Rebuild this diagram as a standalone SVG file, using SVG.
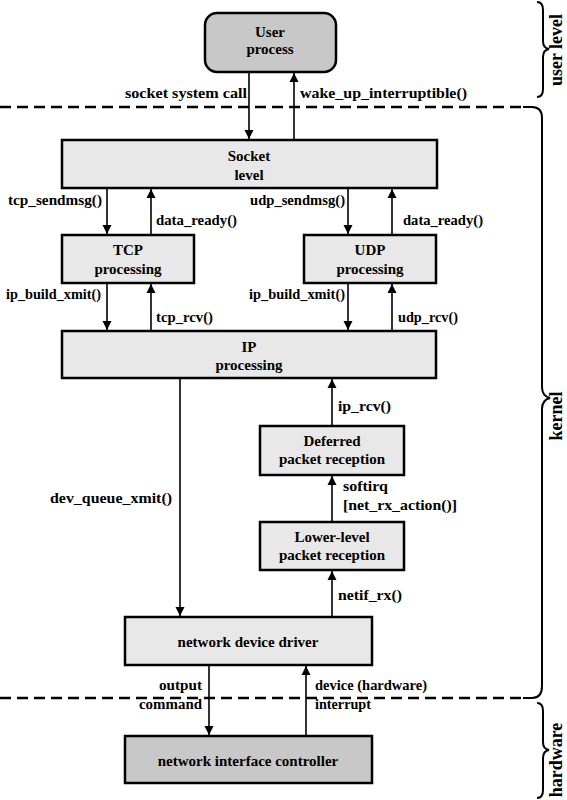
<svg xmlns="http://www.w3.org/2000/svg" width="567" height="800" viewBox="0 0 567 800">
<defs>
<marker id="ah" viewBox="0 0 10 10" refX="10" refY="5" markerWidth="9" markerHeight="10" markerUnits="userSpaceOnUse" orient="auto">
<path d="M0,0 L10,5 L0,10 z" fill="#000"/>
</marker>
<style>
.box{fill:#e8e8e8;stroke:#000;stroke-width:2.5}
.dark{fill:#c8c8c8;stroke:#000;stroke-width:2.5}
.t{font-family:"Liberation Serif","Times New Roman",serif;font-weight:bold;font-size:15px;fill:#000}
.l{font-size:15.5px}
.c{text-anchor:middle}
.r{text-anchor:end}
.side{font-family:"Liberation Serif","Times New Roman",serif;font-weight:bold;font-size:18px;text-anchor:middle;fill:#000}
.ln{stroke:#000;stroke-width:1.6;fill:none;marker-end:url(#ah)}
.dash{stroke:#000;stroke-width:2.4;stroke-dasharray:11,6;fill:none}
.br{stroke:#000;stroke-width:2;fill:none}
</style>
</defs>
<rect width="567" height="800" fill="#fff"/>

<g id="boundaries">
<line class="dash" x1="0" y1="107" x2="525" y2="107"/>
<line class="dash" x1="0" y1="698" x2="525" y2="698"/>
<path class="br" d="M537,2 Q543,2 543,10 L543,41 Q543,48 549,49 Q543,50 543,57 L543,89 Q543,97 537,97"/>
<path class="br" d="M523,107 L532,107 Q542,107 542,118 L542,387 Q542,396 550,398 Q542,400 542,409 L542,686 Q542,698 532,698 L523,698"/>
<path class="br" d="M537,703 Q543,703 543,711 L543,742 Q543,749 549,750 Q543,751 543,758 L543,790 Q543,798 537,798"/>
<text class="side" transform="translate(562,50) rotate(-90)">user level</text>
<text class="side" transform="translate(562,416) rotate(-90)">kernel</text>
<text class="side" transform="translate(562,760) rotate(-90)">hardware</text>
</g>

<g id="user-process">
<rect class="dark" x="205" y="13" width="131" height="59" rx="12"/>
<text class="t c" x="270" y="37">User</text>
<text class="t c" x="270" y="54">process</text>
</g>

<g id="socket-level">
<rect class="box" x="62" y="140" width="375" height="48"/>
<text class="t c" x="249" y="161">Socket</text>
<text class="t c" x="249" y="180">level</text>
</g>

<g id="tcp">
<rect class="box" x="62" y="235" width="132" height="48"/>
<text class="t c" x="128" y="255">TCP</text>
<text class="t c" x="128" y="274">processing</text>
</g>

<g id="udp">
<rect class="box" x="304" y="235" width="132" height="48"/>
<text class="t c" x="370" y="255">UDP</text>
<text class="t c" x="370" y="274">processing</text>
</g>

<g id="ip">
<rect class="box" x="62" y="331" width="374" height="47"/>
<text class="t c" x="249" y="352">IP</text>
<text class="t c" x="249" y="370">processing</text>
</g>

<g id="deferred">
<rect class="box" x="260" y="426" width="144" height="49"/>
<text class="t c" x="332" y="446">Deferred</text>
<text class="t c" x="332" y="464">packet reception</text>
</g>

<g id="lower-level">
<rect class="box" x="260" y="522" width="144" height="48"/>
<text class="t c" x="332" y="542">Lower-level</text>
<text class="t c" x="332" y="560">packet reception</text>
</g>

<g id="driver">
<rect class="box" x="125" y="617" width="247" height="48"/>
<text class="t c" x="248" y="647">network device driver</text>
</g>

<g id="nic">
<rect class="dark" x="125" y="736" width="247" height="47"/>
<text class="t c" x="248" y="766">network interface controller</text>
</g>

<g id="connectors">
<line class="ln" x1="249" y1="72" x2="249" y2="139"/>
<line class="ln" x1="294" y1="140" x2="294" y2="73"/>
<line class="ln" x1="107" y1="188" x2="107" y2="234"/>
<line class="ln" x1="151" y1="235" x2="151" y2="189"/>
<line class="ln" x1="348" y1="188" x2="348" y2="234"/>
<line class="ln" x1="392" y1="235" x2="392" y2="189"/>
<line class="ln" x1="107" y1="283" x2="107" y2="330"/>
<line class="ln" x1="151" y1="331" x2="151" y2="284"/>
<line class="ln" x1="348" y1="283" x2="348" y2="330"/>
<line class="ln" x1="392" y1="331" x2="392" y2="284"/>
<line class="ln" x1="180" y1="378" x2="180" y2="616"/>
<line class="ln" x1="332" y1="426" x2="332" y2="379"/>
<line class="ln" x1="332" y1="522" x2="332" y2="476"/>
<line class="ln" x1="332" y1="617" x2="332" y2="571"/>
<line class="ln" x1="209" y1="665" x2="209" y2="735"/>
<line class="ln" x1="306" y1="736" x2="306" y2="666"/>

<text class="t l" x="125" y="98" textLength="122" lengthAdjust="spacingAndGlyphs">socket system call</text>
<text class="t l" x="300" y="98" textLength="167" lengthAdjust="spacingAndGlyphs">wake_up_interruptible()</text>
<text class="t l" x="8" y="205" textLength="94" lengthAdjust="spacingAndGlyphs">tcp_sendmsg()</text>
<text class="t l" x="156" y="225" textLength="81" lengthAdjust="spacingAndGlyphs">data_ready()</text>
<text class="t l" x="250" y="205" textLength="95" lengthAdjust="spacingAndGlyphs">udp_sendmsg()</text>
<text class="t l" x="403" y="225" textLength="80" lengthAdjust="spacingAndGlyphs">data_ready()</text>
<text class="t l" x="6" y="299" textLength="95" lengthAdjust="spacingAndGlyphs">ip_build_xmit()</text>
<text class="t l" x="156" y="322" textLength="57" lengthAdjust="spacingAndGlyphs">tcp_rcv()</text>
<text class="t l" x="249" y="299" textLength="96" lengthAdjust="spacingAndGlyphs">ip_build_xmit()</text>
<text class="t l" x="398" y="322" textLength="60" lengthAdjust="spacingAndGlyphs">udp_rcv()</text>
<text class="t l" x="50" y="503" textLength="122" lengthAdjust="spacingAndGlyphs">dev_queue_xmit()</text>
<text class="t l" x="338" y="411" textLength="53" lengthAdjust="spacingAndGlyphs">ip_rcv()</text>
<text class="t l" x="343" y="491" textLength="45" lengthAdjust="spacingAndGlyphs">softirq</text>
<text class="t l" x="343" y="510" textLength="114" lengthAdjust="spacingAndGlyphs">[net_rx_action()]</text>
<text class="t l" x="338" y="600" textLength="64" lengthAdjust="spacingAndGlyphs">netif_rx()</text>
<text class="t l" x="159" y="690" textLength="43" lengthAdjust="spacingAndGlyphs">output</text>
<text class="t l" x="139" y="709" textLength="63" lengthAdjust="spacingAndGlyphs">command</text>
<text class="t l" x="315" y="690" textLength="112" lengthAdjust="spacingAndGlyphs">device (hardware)</text>
<text class="t l" x="315" y="709" textLength="56" lengthAdjust="spacingAndGlyphs">interrupt</text>
</g>
</svg>
